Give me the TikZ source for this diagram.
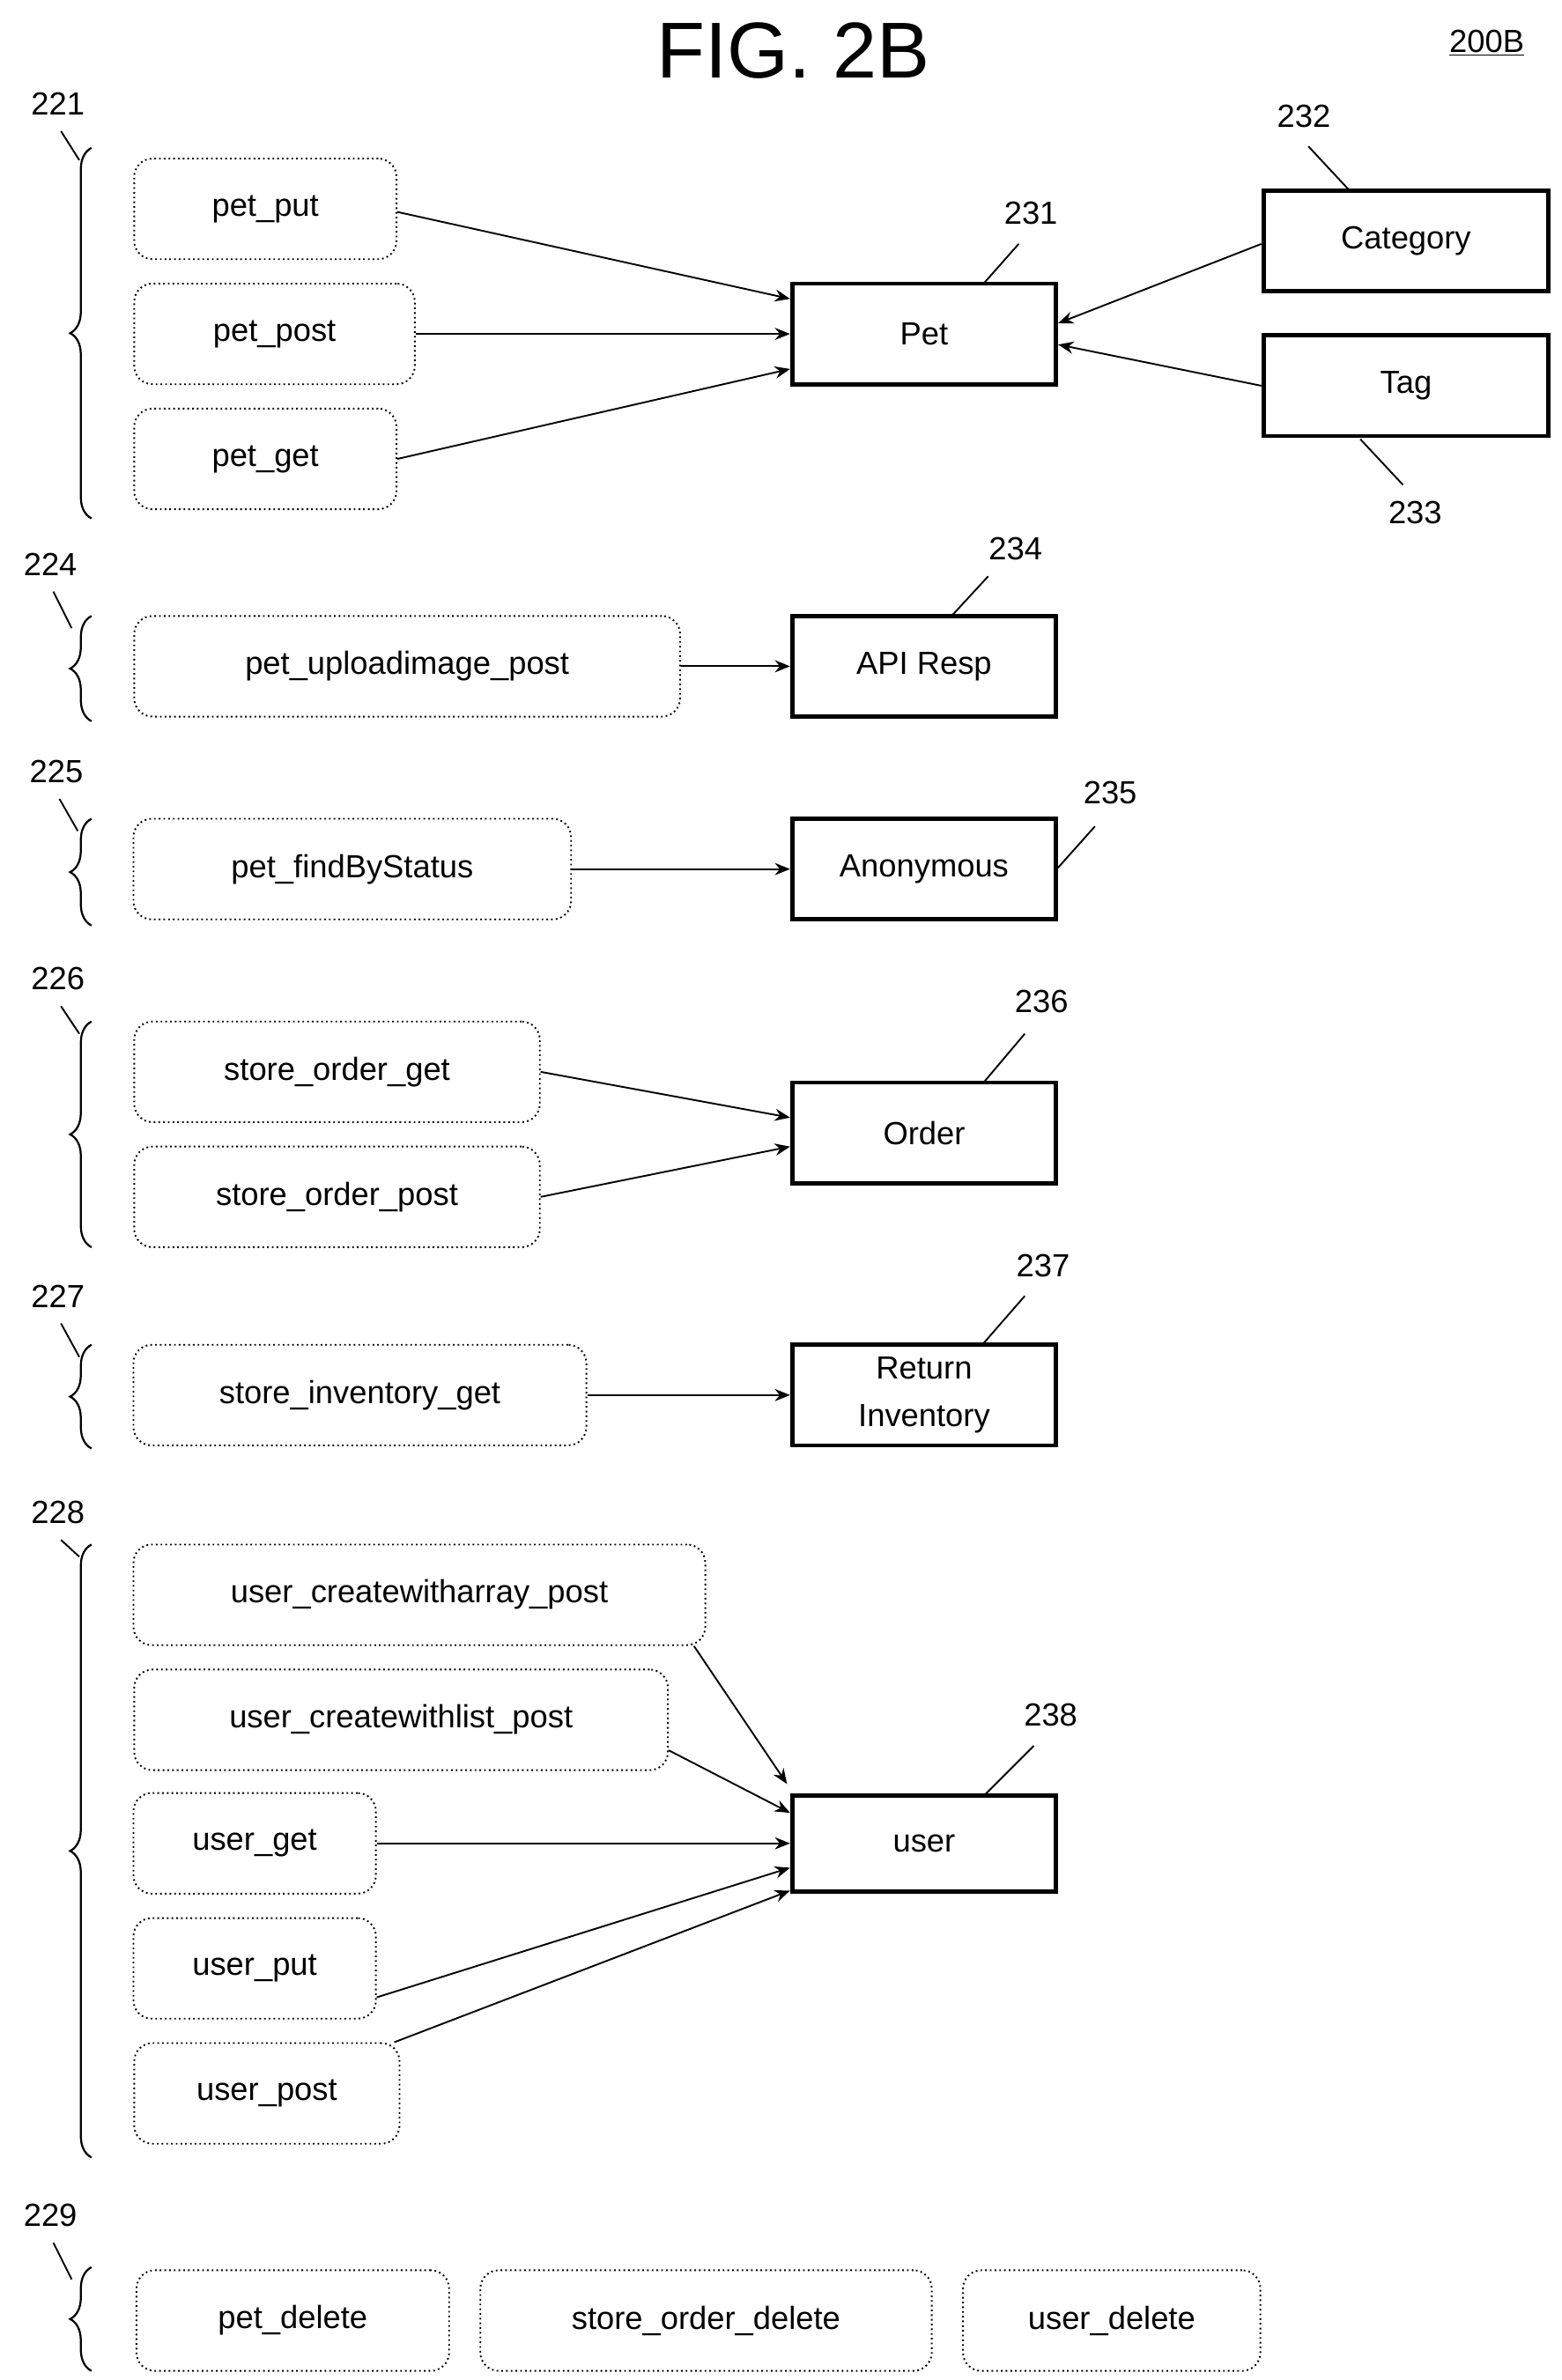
\documentclass[tikz,border=0pt]{standalone}
\usepackage{fontspec}
\setmainfont{Liberation Sans}
\usetikzlibrary{decorations.pathreplacing,arrows.meta}
\begin{document}
\begin{tikzpicture}[x=1pt,y=-1pt,
 rb/.style={draw,dotted,line width=1.1pt,rounded corners=12pt,minimum height=66pt,inner sep=0pt,font=\fontsize{21}{24}\selectfont},
 bx/.style={draw,line width=2.8pt,minimum width=173pt,minimum height=66pt,inner sep=0pt,font=\fontsize{21}{24}\selectfont,align=center},
 ar/.style={-{Stealth[length=10pt,width=8pt]},line width=1.1pt},
 br/.style={decorate,decoration={brace,amplitude=14pt,aspect=0.5},line width=1.3pt},
 lb/.style={font=\fontsize{21}{24}\selectfont},
 ld/.style={line width=1.1pt}]
\useasboundingbox (0,0) rectangle (1024,1561);
\node[font=\fontsize{52}{58}\selectfont] (fig) at (520,33) {FIG. 2B};
\node[lb] (num) at (975,28) {\underline{200B}};
% left boxes
\node[rb,minimum width=172pt] (pput) at (174,137) {pet\_put};
\node[rb,minimum width=184pt] (ppost) at (180,219) {pet\_post};
\node[rb,minimum width=172pt] (pget) at (174,301) {pet\_get};
\node[rb,minimum width=358pt] (pup) at (267,437) {pet\_uploadimage\_post};
\node[rb,minimum width=287pt] (pfind) at (231,570) {pet\_findByStatus};
\node[rb,minimum width=266pt] (sog) at (221,703) {store\_order\_get};
\node[rb,minimum width=266pt] (sop) at (221,785) {store\_order\_post};
\node[rb,minimum width=297pt] (sig) at (236,915) {store\_inventory\_get};
\node[rb,minimum width=375pt] (uca) at (275,1046) {user\_createwitharray\_post};
\node[rb,minimum width=350pt] (ucl) at (263,1128) {user\_createwithlist\_post};
\node[rb,minimum width=159pt] (ug) at (167,1209) {user\_get};
\node[rb,minimum width=159pt] (uput) at (167,1291) {user\_put};
\node[rb,minimum width=174pt] (upost) at (175,1373) {user\_post};
\node[rb,minimum width=205pt] (pdel) at (192,1522) {pet\_delete};
\node[rb,minimum width=296pt] (sodel) at (463,1522) {store\_order\_delete};
\node[rb,minimum width=195pt] (udel) at (729,1522) {user\_delete};
% right boxes
\node[bx] (pet) at (606,219) {Pet};
\node[bx,minimum width=187pt] (cat) at (922,158) {Category};
\node[bx,minimum width=187pt] (tag) at (922,253) {Tag};
\node[bx] (api) at (606,437) {API Resp};
\node[bx] (anon) at (606,570) {Anonymous};
\node[bx] (ord) at (606,743) {Order};
\node[bx,font=\fontsize{21}{31}\selectfont] (ri) at (606,915) {Return\\Inventory};
\node[bx,minimum height=63pt] (user) at (606,1209) {user};
% arrows
\draw[ar] ([yshift=-2pt]pput.east) -- ([yshift=23pt]pet.west);
\draw[ar] (ppost.east) -- (pet.west);
\draw[ar] (pget.east) -- ([yshift=-23pt]pet.west);
\draw[ar] ([yshift=-2pt]cat.west) -- ([yshift=7pt]pet.east);
\draw[ar] (tag.west) -- ([yshift=-7pt]pet.east);
\draw[ar] (pup.east) -- (api.west);
\draw[ar] (pfind.east) -- (anon.west);
\draw[ar] (sog.east) -- ([yshift=10pt]ord.west);
\draw[ar] (sop.east) -- ([yshift=-9pt]ord.west);
\draw[ar] (sig.east) -- (ri.west);
\draw[ar] ([xshift=-8pt]uca.south east) -- ([xshift=-2pt,yshift=6pt]user.north west);
\draw[ar] ([yshift=-20pt]ucl.east) -- ([yshift=20pt]user.west);
\draw[ar] (ug.east) -- (user.west);
\draw[ar] ([yshift=-19pt]uput.east) -- ([yshift=-16pt]user.west);
\draw[ar] ([xshift=-4pt]upost.north east) -- ([yshift=-31pt]user.west);
% numbers
\node[lb] (n231) at (676,140) {231}; \coordinate (c231) at (645,186); \draw[ld] (668,160) -- (c231);
\node[lb] (n232) at (855,76) {232}; \coordinate (c232) at (885,125); \draw[ld] (858,96) -- (c232);
\node[lb] (n233) at (928,336) {233}; \coordinate (c233) at (892,288); \draw[ld] (920,318) -- (c233);
\node[lb] (n234) at (666,360) {234}; \coordinate (c234) at (624,404); \draw[ld] (648,378) -- (c234);
\node[lb] (n235) at (728,520) {235}; \coordinate (c235) at (693,570); \draw[ld] (718,542) -- (c235);
\node[lb] (n236) at (683,657) {236}; \coordinate (c236) at (645,710); \draw[ld] (672,678) -- (c236);
\node[lb] (n237) at (684,830) {237}; \coordinate (c237) at (645,881); \draw[ld] (672,850) -- (c237);
\node[lb] (n238) at (689,1125) {238}; \coordinate (c238) at (645,1178); \draw[ld] (678,1145) -- (c238);
% braces
\foreach \n/\t/\b/\lx/\ly in {221/97/340/38/68, 224/404/473/33/370, 225/537/607/37/506, 226/670/818/38/642, 227/882/950/38/850, 228/1013/1415/38/992, 229/1487/1555/33/1453}{
 \draw[br] (60,\b) -- (60,\t);
 \node[lb] (L\n) at (\lx,\ly) {\n};
 \draw[ld] (\lx+2,\ly+18) -- (\lx+14,\t+8);
}
\end{tikzpicture}
\end{document}
